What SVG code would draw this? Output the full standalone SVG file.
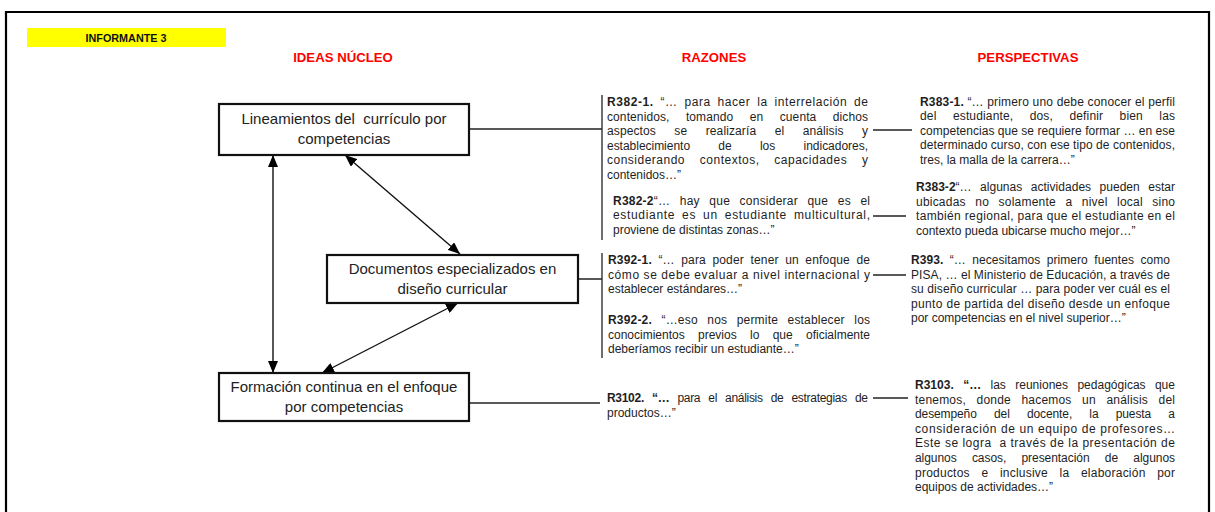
<svg xmlns="http://www.w3.org/2000/svg" width="1215" height="512" viewBox="0 0 1215 512">
<defs>
<style>
.frame{fill:none;stroke:#000;stroke-width:2.2}
.box{fill:#fff;stroke:#111;stroke-width:2.2}
.bt{font-family:"Liberation Sans",Arial,sans-serif;font-size:15px;fill:#222;text-anchor:middle}
.hd{font-family:"Liberation Sans",Arial,sans-serif;font-size:13.2px;font-weight:bold;fill:#ff0000;text-anchor:middle}
.q{font-family:"Liberation Sans",Arial,sans-serif;font-size:12px;fill:#1e1e1e}
.b{font-weight:bold}
.ln{fill:none;stroke:#222;stroke-width:1.3}
.ar{fill:none;stroke:#111;stroke-width:1.4}
</style>
<marker id="ah" viewBox="0 0 12 10" refX="12" refY="5" markerWidth="12" markerHeight="10" markerUnits="userSpaceOnUse" orient="auto-start-reverse">
<path d="M0,0 L12,5 L0,10 Z" fill="#000"/>
</marker>
</defs>
<rect width="1215" height="512" fill="#fff"/>
<path class="frame" d="M6,512 V12 H1209 V512"/>
<g id="informante">
<rect x="27" y="28" width="199" height="19" fill="#ffff00"/>
<text x="126" y="41.5" font-family="Liberation Sans,Arial,sans-serif" font-size="10.8" font-weight="bold" fill="#111" text-anchor="middle">INFORMANTE 3</text>
</g>
<g id="headings">
<text class="hd" x="343" y="61.5">IDEAS NÚCLEO</text>
<text class="hd" x="714" y="61.5">RAZONES</text>
<text class="hd" x="1028" y="61.5">PERSPECTIVAS</text>
</g>
<g id="connectors">
<line class="ar" x1="273" y1="155" x2="273" y2="373" marker-start="url(#ah)" marker-end="url(#ah)"/>
<line class="ar" x1="345" y1="155" x2="460" y2="254" marker-start="url(#ah)" marker-end="url(#ah)"/>
<line class="ar" x1="458" y1="303" x2="322" y2="373" marker-start="url(#ah)" marker-end="url(#ah)"/>
<path class="ln" d="M469,129 H602 M602,95 V240"/>
<path class="ln" d="M578,279 H602 M602,253 V358"/>
<path class="ln" d="M469,403 H600"/>
<path class="ln" d="M873,130 H912"/>
<path class="ln" d="M873,216 H906"/>
<path class="ln" d="M873,275 H906"/>
<path class="ln" d="M873,398 H908"/>
</g>
<g id="node-lineamientos">
<rect class="box" x="219" y="104" width="250" height="51"/>
<text class="bt" x="344" y="124" xml:space="preserve">Lineamientos del  currículo por</text>
<text class="bt" x="344" y="144">competencias</text>
</g>
<g id="node-documentos">
<rect class="box" x="327" y="255" width="251" height="48"/>
<text class="bt" x="452.5" y="274">Documentos especializados en</text>
<text class="bt" x="452.5" y="294">diseño curricular</text>
</g>
<g id="node-formacion">
<rect class="box" x="219" y="373" width="250" height="48"/>
<text class="bt" x="344" y="392">Formación continua en el enfoque</text>
<text class="bt" x="344" y="412">por competencias</text>
</g>
<g id="r382-1">
<text class="q" x="607" y="106" textLength="261" lengthAdjust="spacing" word-spacing="3"><tspan class="b">R382-1.</tspan> “… para hacer la interrelación de</text>
<text class="q" x="607" y="120.6" textLength="261" lengthAdjust="spacing" word-spacing="13">contenidos, tomando en cuenta dichos</text>
<text class="q" x="607" y="135.2" textLength="261" lengthAdjust="spacing" word-spacing="15">aspectos se realizaría el análisis y</text>
<text class="q" x="607" y="149.8" textLength="261" lengthAdjust="spacing" word-spacing="25">establecimiento de los indicadores,</text>
<text class="q" x="607" y="164.4" textLength="261" lengthAdjust="spacing" word-spacing="11">considerando contextos, capacidades y</text>
<text class="q" x="607" y="179">contenidos…”</text>
</g>
<g id="r382-2">
<text class="q" x="613" y="204.5" textLength="257" lengthAdjust="spacing" word-spacing="6"><tspan class="b">R382-2</tspan>“… hay que considerar que es el</text>
<text class="q" x="613" y="219.1" textLength="257" lengthAdjust="spacing" word-spacing="3">estudiante es un estudiante multicultural,</text>
<text class="q" x="613" y="233.7">proviene de distintas zonas…”</text>
</g>
<g id="r383-1">
<text class="q" x="920" y="105.5" textLength="255" lengthAdjust="spacing"><tspan class="b">R383-1.</tspan> “… primero uno debe conocer el perfil</text>
<text class="q" x="920" y="120.1" textLength="255" lengthAdjust="spacing" word-spacing="13">del estudiante, dos, definir bien las</text>
<text class="q" x="920" y="134.7" textLength="255" lengthAdjust="spacing">competencias que se requiere formar … en ese</text>
<text class="q" x="920" y="149.3" textLength="255" lengthAdjust="spacing">determinado curso, con ese tipo de contenidos,</text>
<text class="q" x="920" y="163.9">tres, la malla de la carrera…”</text>
</g>
<g id="r383-2">
<text class="q" x="916" y="191" textLength="259" lengthAdjust="spacing" word-spacing="5"><tspan class="b">R383-2</tspan>“… algunas actividades pueden estar</text>
<text class="q" x="916" y="205.6" textLength="259" lengthAdjust="spacing" word-spacing="6">ubicadas no solamente a nivel local sino</text>
<text class="q" x="916" y="220.2" textLength="259" lengthAdjust="spacing">también regional, para que el estudiante en el</text>
<text class="q" x="916" y="234.8">contexto pueda ubicarse mucho mejor…”</text>
</g>
<g id="r392-1">
<text class="q" x="608" y="264" textLength="262" lengthAdjust="spacing" word-spacing="3"><tspan class="b">R392-1.</tspan> “… para poder tener un enfoque de</text>
<text class="q" x="608" y="278.6" textLength="262" lengthAdjust="spacing">cómo se debe evaluar a nivel internacional y</text>
<text class="q" x="608" y="293.2">establecer estándares…”</text>
</g>
<g id="r392-2">
<text class="q" x="608" y="324" textLength="262" lengthAdjust="spacing" word-spacing="6"><tspan class="b">R392-2.</tspan> “…eso nos permite establecer los</text>
<text class="q" x="608" y="338.6" textLength="262" lengthAdjust="spacing" word-spacing="10">conocimientos previos lo que oficialmente</text>
<text class="q" x="608" y="353.2">deberíamos recibir un estudiante…”</text>
</g>
<g id="r393">
<text class="q" x="911" y="264" textLength="259" lengthAdjust="spacing" word-spacing="3"><tspan class="b">R393.</tspan> “… necesitamos primero fuentes como</text>
<text class="q" x="911" y="278.6" textLength="259" lengthAdjust="spacing">PISA, … el Ministerio de Educación, a través de</text>
<text class="q" x="911" y="293.2" textLength="259" lengthAdjust="spacing">su diseño curricular … para poder ver cuál es el</text>
<text class="q" x="911" y="307.8" textLength="259" lengthAdjust="spacing">punto de partida del diseño desde un enfoque</text>
<text class="q" x="911" y="322.4">por competencias en el nivel superior…”</text>
</g>
<g id="r3102">
<text class="q" x="607" y="402" textLength="261" lengthAdjust="spacing" word-spacing="5"><tspan class="b">R3102. “…</tspan> para el análisis de estrategias de</text>
<text class="q" x="607" y="416.6">productos…”</text>
</g>
<g id="r3103">
<text class="q" x="915" y="389" textLength="260" lengthAdjust="spacing" word-spacing="6"><tspan class="b">R3103. “…</tspan> las reuniones pedagógicas que</text>
<text class="q" x="915" y="403.6" textLength="260" lengthAdjust="spacing" word-spacing="7">tenemos, donde hacemos un análisis del</text>
<text class="q" x="915" y="418.2" textLength="260" lengthAdjust="spacing" word-spacing="14">desempeño del docente, la puesta a</text>
<text class="q" x="915" y="432.8" textLength="260" lengthAdjust="spacing">consideración de un equipo de profesores…</text>
<text class="q" x="915" y="447.4" textLength="260" lengthAdjust="spacing" xml:space="preserve">Este se logra  a través de la presentación de</text>
<text class="q" x="915" y="462" textLength="260" lengthAdjust="spacing" word-spacing="12">algunos casos, presentación de algunos</text>
<text class="q" x="915" y="476.6" textLength="260" lengthAdjust="spacing" word-spacing="8">productos e inclusive la elaboración por</text>
<text class="q" x="915" y="491.2">equipos de actividades…”</text>
</g>
</svg>
